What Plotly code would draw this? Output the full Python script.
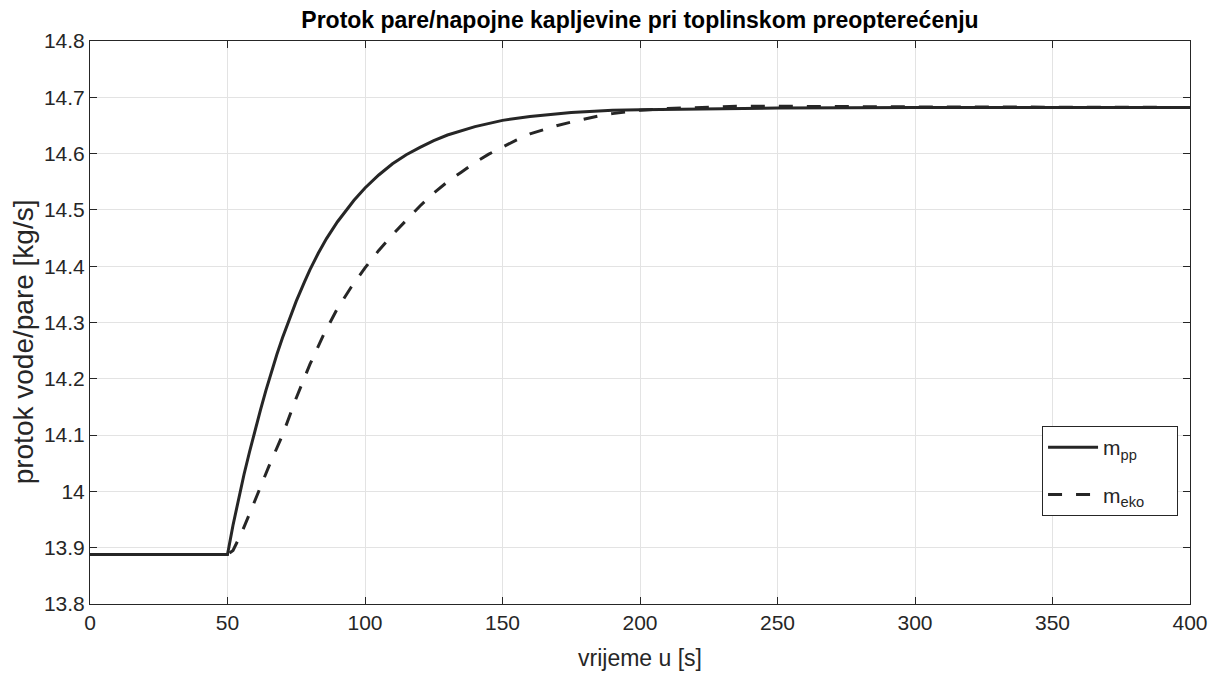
import plotly.graph_objects as go

t_pp = [0, 50, 52, 54, 56, 58, 60, 62, 64, 66, 68, 70, 72, 75, 78, 80, 83, 86, 90, 93, 96, 100,
        105, 110, 115, 120, 125, 130, 140, 150, 160, 175, 190, 200, 225, 250, 300, 400]
m_pp = [13.888, 13.888, 13.940, 13.987, 14.030, 14.070, 14.110, 14.145, 14.180, 14.213, 14.244,
        14.273, 14.300, 14.338, 14.372, 14.394, 14.423, 14.449, 14.479, 14.499, 14.517, 14.539,
        14.562, 14.582, 14.598, 14.611, 14.623, 14.633, 14.648, 14.659, 14.666, 14.673, 14.677,
        14.678, 14.680, 14.681, 14.682, 14.682]

t_eko = [0, 50, 52, 55, 58, 60, 65, 70, 75, 80, 85, 90, 95, 100, 105, 110, 115, 120, 125, 130,
         135, 140, 145, 150, 155, 160, 165, 170, 175, 180, 185, 190, 195, 200, 210, 220, 235,
         250, 275, 300, 400]
m_eko = [13.888, 13.888, 13.895, 13.925, 13.960, 13.985, 14.044, 14.100, 14.166, 14.226, 14.279,
         14.325, 14.363, 14.397, 14.428, 14.456, 14.482, 14.507, 14.530, 14.550, 14.567, 14.584,
         14.599, 14.612, 14.624, 14.635, 14.643, 14.650, 14.656, 14.662, 14.667, 14.671, 14.674,
         14.677, 14.680, 14.682, 14.684, 14.684, 14.683, 14.683, 14.682]

x_ticks = [0, 50, 100, 150, 200, 250, 300, 350, 400]
y_ticks = [13.8, 13.9, 14.0, 14.1, 14.2, 14.3, 14.4, 14.5, 14.6, 14.7, 14.8]
y_tick_text = ["13.8", "13.9", "14", "14.1", "14.2", "14.3", "14.4", "14.5", "14.6", "14.7", "14.8"]

ink = "#262626"
font = "Liberation Sans, Arial, sans-serif"

fig = go.Figure()
fig.add_trace(go.Scatter(x=t_pp, y=m_pp, mode="lines",
                         name="m<sub>pp</sub>&nbsp;&nbsp;&nbsp;&nbsp;&nbsp;&nbsp;",
                         legendgroup="a", line=dict(color=ink, width=3)))
fig.add_trace(go.Scatter(x=t_eko, y=m_eko, mode="lines", name="m<sub>eko</sub>",
                         legendgroup="b", line=dict(color=ink, width=3, dash="14px,14px")))

axis_common = dict(showline=True, linecolor=ink, linewidth=1, mirror="ticks",
                   ticks="inside", ticklen=7, tickcolor=ink, tickwidth=1,
                   showgrid=True, gridcolor="#e3e3e3", gridwidth=1, zeroline=False,
                   automargin=False,
                   tickfont=dict(family=font, size=21, color=ink))

fig.update_xaxes(range=[0, 400], tickvals=x_ticks,
                 title=dict(text="vrijeme u [s]", font=dict(family=font, size=23, color=ink), standoff=16),
                 **axis_common)
fig.update_yaxes(range=[13.8, 14.8], tickvals=y_ticks, ticktext=y_tick_text,
                 title=dict(text="protok vode/pare [kg/s]&nbsp;&nbsp;&nbsp;&nbsp;&nbsp;",
                            font=dict(family=font, size=28, color=ink), standoff=4),
                 **axis_common)

fig.update_layout(
    width=1210, height=665,
    margin=dict(l=82, r=28, t=33, b=69),
    paper_bgcolor="white", plot_bgcolor="white",
    title=dict(text="<b>Protok pare/napojne kapljevine pri toplinskom preopterećenju</b>",
               x=0.5, xanchor="center", xref="paper", y=0.982, yanchor="middle",
               font=dict(family=font, size=23, color="black")),
    legend=dict(x=0.8655, y=0.316, xanchor="left", yanchor="top",
                bgcolor="white", bordercolor=ink, borderwidth=1,
                font=dict(family=font, size=21, color=ink),
                itemwidth=50, tracegroupgap=17),
    showlegend=True,
)

fig.write_html("out.html")
